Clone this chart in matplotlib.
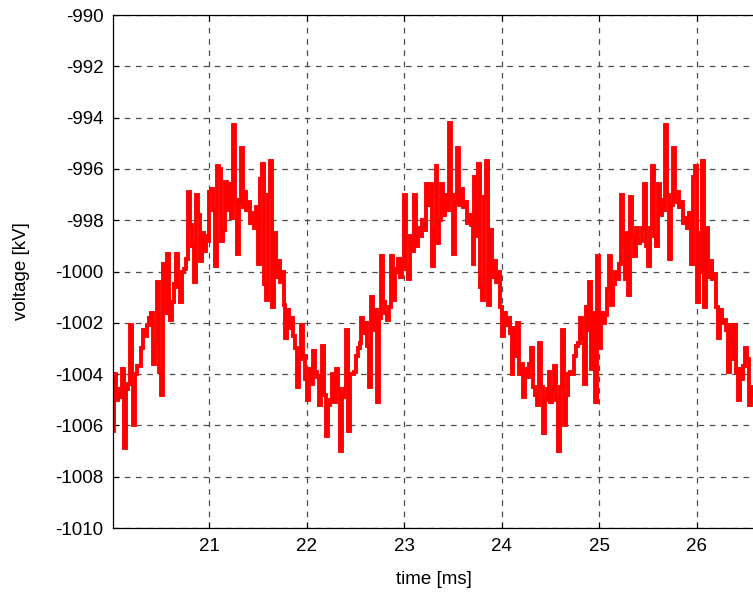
import numpy as np
import matplotlib
matplotlib.use("Agg")
import matplotlib.pyplot as plt

# ---- data ----
t_start_ms = 20.011
dt_ms = 0.02

seg1_kv = [-1006.2, -1004.0, -1005.0, -1004.6, -1004.9, -1003.8, -1006.9, -1004.6, -1004.4, -1002.1,
           -1004.2, -1006.0, -1004.0, -1003.7, -1003.7, -1003.0, -1002.3, -1002.5, -1002.1, -1001.8,
           -1001.6, -1003.6, -1002.8, -1000.4, -1003.9, -1004.8, -999.7, -1001.6, -999.3, -1001.5,
           -1001.9, -1001.2, -1000.5, -999.3, -1000.6, -1001.2, -1000.0, -999.9, -999.5, -996.9,
           -998.2, -999.0, -1000.4, -997.0, -997.8, -999.6, -998.5, -999.2, -998.6, -998.8,
           -996.9, -996.8, -997.6, -999.8, -995.9]
seg2_kv = [-996.0, -998.8, -998.4, -996.5, -997.6, -996.6, -997.9, -994.3, -997.2, -999.3,
           -997.3, -995.2, -997.5, -996.9, -997.6, -997.3, -998.1, -997.7, -998.3, -997.5,
           -999.7, -996.4, -995.8, -1000.5, -1001.1, -997.0, -995.7, -1001.4, -998.5, -1000.2,
           -999.6, -1000.4, -1000.0, -1001.3, -1002.6, -1001.5, -1002.2, -1001.8, -1002.5, -1003.0,
           -1004.5, -1003.4, -1002.1, -1003.3, -1004.2, -1005.0, -1003.8, -1004.4, -1003.1, -1003.9,
           -1004.1, -1005.2, -1004.3, -1002.9]
seg3_kv = [-1004.8, -1006.4, -1005.2, -1005.0, -1004.0, -1005.1, -1003.8, -1004.6, -1007.0, -1004.9,
           -1004.6, -1002.3, -1006.2, -1004.0, -1004.0, -1003.9, -1003.3, -1003.0, -1002.8, -1001.8,
           -1002.4, -1002.0, -1002.9, -1004.5, -1001.0, -1002.3, -1001.5, -1005.1, -1001.8, -999.4,
           -1001.2, -1001.6, -1001.9, -1001.4, -999.4, -1001.1, -999.9, -1000.0, -999.5, -1000.2,
           -999.6, -997.0, -999.9, -1000.3, -998.6, -999.2, -997.0, -999.0, -998.3, -998.6,
           -998.0, -998.4, -996.6, -997.4]
seg4_kv = [-996.6, -999.8, -998.3, -995.9, -998.9, -998.0, -996.6, -997.8, -997.0, -997.6,
           -994.2, -997.0, -999.3, -997.3, -995.2, -997.4, -996.8, -997.5, -997.3, -998.1,
           -997.8, -998.2, -999.7, -996.3, -998.6, -995.8, -1000.6, -1001.1, -997.1, -995.7,
           -1001.3, -998.4, -1000.2, -999.6, -1000.4, -1000.0, -1001.4, -1002.5, -1001.6, -1002.1,
           -1001.8, -1002.4, -1004.0, -1002.2, -1003.3, -1002.0, -1004.0, -1003.6, -1004.9, -1003.8,
           -1004.1, -1003.6, -1003.0, -1004.5]
seg5_kv = [-1004.8, -1005.2, -1002.8, -1004.5, -1006.3, -1005.0, -1004.6, -1003.9, -1005.1, -1004.6,
           -1003.7, -1005.0, -1007.0, -1004.5, -1002.3, -1006.0, -1004.8, -1004.0, -1003.9, -1004.0,
           -1003.3, -1002.9, -1002.8, -1001.8, -1002.6, -1004.4, -1001.4, -1002.3, -1000.4, -1003.8,
           -1001.6, -1005.1, -999.4, -1003.0, -1001.6, -1002.0, -1001.7, -1000.7, -999.4, -1001.3,
           -1000.5, -1000.0, -1000.3, -999.7, -997.0, -999.0, -1000.3, -998.5, -1000.9, -997.1,
           -998.6, -999.4, -998.3, -998.9]
seg6_kv = [-998.8, -998.3, -996.6, -999.0, -999.8, -998.3, -995.9, -998.6, -999.0, -996.6,
           -997.8, -997.2, -997.6, -994.3, -997.0, -999.5, -997.4, -995.2, -997.3, -996.9,
           -997.5, -997.3, -998.1, -997.9, -998.3, -997.7, -999.7, -996.3, -995.9, -1001.2,
           -998.5, -1000.0, -995.7, -1001.4, -998.3, -1000.2, -999.6, -1000.3, -1000.1, -1001.4,
           -1002.6, -1001.5, -1002.0, -1001.9, -1002.3, -1003.9, -1002.1, -1003.4, -1002.1, -1003.9,
           -1005.0, -1003.8, -1004.2, -1003.7, -1003.0, -1003.4, -1005.2, -1004.5, -1004.8]

xticks = [21, 22, 23, 24, 25, 26]
yticks = [-1010, -1008, -1006, -1004, -1002, -1000, -998, -996, -994, -992, -990]
xlim = (20.011, 26.60)
ylim = (-1010, -990)
xlabel = "time [ms]"
ylabel = "voltage [kV]"

voltage = np.array(seg1_kv + seg2_kv + seg3_kv + seg4_kv + seg5_kv + seg6_kv)
time = t_start_ms + dt_ms * np.arange(len(voltage))

# ---- figure ----
plt.rcParams['font.family'] = ['Liberation Sans', 'DejaVu Sans']
fig = plt.figure(figsize=(7.53, 5.92), dpi=100)
ax = fig.add_axes([113 / 753, 64 / 592, 642 / 753, 513 / 592])

ax.plot(time, voltage, color='#ff0000', linewidth=2.8, drawstyle='steps-mid',
        solid_joinstyle='miter')

ax.set_xlim(*xlim)
ax.set_ylim(*ylim)
ax.set_xticks(xticks)
ax.set_yticks(yticks)
ax.set_yticklabels([str(v) for v in yticks])
ax.tick_params(direction='in', length=4, width=0.8, labelsize=13.5,
               top=True, right=False, pad=7, colors='black')
ax.grid(True, color='0.3', linestyle=(0, (4.5, 4.5)), linewidth=0.9)
ax.set_axisbelow(True)
for s in ['left', 'bottom', 'top']:
    ax.spines[s].set_linewidth(0.9)
    ax.spines[s].set_color('black')
ax.spines['right'].set_visible(False)

ax.set_xlabel(xlabel, fontsize=13.5, labelpad=12)
ax.set_ylabel(ylabel, fontsize=13.5, labelpad=18)

fig.savefig("out.png", dpi=100)
